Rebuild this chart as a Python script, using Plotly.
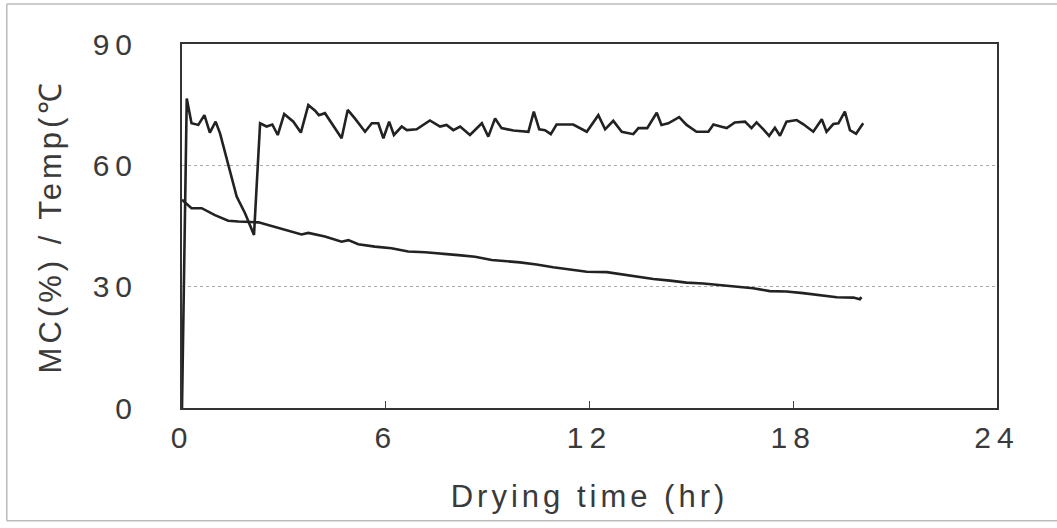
import plotly.graph_objects as go

# Temperature (°C) vs drying time (hr)
temp_t = [0.0, 0.14, 0.28, 0.48, 0.66, 0.82, 0.99, 1.12, 1.61, 1.86, 2.12, 2.30, 2.49, 2.66, 2.82,
          3.01, 3.28, 3.50, 3.72, 3.92, 4.03, 4.21, 4.70, 4.88, 5.09, 5.39, 5.59, 5.78, 5.93, 6.10,
          6.24, 6.47, 6.62, 6.91, 7.30, 7.60, 7.79, 7.99, 8.19, 8.48, 8.83, 9.02, 9.22, 9.41, 9.76,
          10.20, 10.36, 10.52, 10.69, 10.86, 11.03, 11.52, 11.92, 12.26, 12.46, 12.70, 12.95, 13.29,
          13.44, 13.70, 13.98, 14.12, 14.32, 14.64, 14.86, 15.15, 15.50, 15.65, 15.86, 16.04, 16.28,
          16.58, 16.77, 16.92, 17.12, 17.29, 17.46, 17.61, 17.80, 18.10, 18.29, 18.59, 18.84, 18.98,
          19.18, 19.33, 19.52, 19.67, 19.85, 20.06]
temp_v = [0.0, 76.5, 70.4, 70.0, 72.4, 68.1, 70.8, 67.9, 52.3, 48.1, 42.8, 70.4, 69.6, 70.1, 67.5,
          72.7, 70.8, 68.1, 74.9, 73.5, 72.4, 72.9, 66.7, 73.7, 71.6, 68.3, 70.4, 70.4, 66.7, 70.8,
          67.5, 69.6, 68.7, 68.9, 71.1, 69.6, 70.0, 68.7, 69.6, 67.5, 70.4, 67.1, 71.6, 69.2, 68.6,
          68.3, 73.3, 68.9, 68.7, 67.7, 70.1, 70.1, 68.3, 72.4, 68.9, 71.0, 68.3, 67.7,
          69.2, 69.2, 73.0, 70.0, 70.4, 71.9, 70.0, 68.3, 68.3, 70.1, 69.6, 69.2, 70.6,
          70.8, 69.2, 70.6, 68.9, 67.3, 69.3, 67.3, 70.8, 71.2, 70.2, 68.3, 71.4, 68.3,
          70.2, 70.4, 73.3, 68.7, 67.8, 70.4]

# Moisture content (%) vs drying time (hr)
mc_t = [0.0, 0.28, 0.58, 0.97, 1.36, 1.66, 2.25, 2.74, 3.23, 3.52, 3.72, 4.21, 4.70, 4.90, 5.19,
        5.68, 6.17, 6.66, 7.16, 7.65, 8.14, 8.63, 9.12, 9.95, 10.44, 10.93, 11.43, 11.92, 12.51,
        12.90, 13.39, 13.88, 14.37, 14.86, 15.35, 15.84, 16.33, 16.82, 17.31, 17.80, 18.29, 18.79,
        19.28, 19.77, 19.96, 20.01]
mc_v = [51.5, 49.4, 49.4, 47.7, 46.3, 46.1, 45.9, 44.7, 43.6, 42.9, 43.3, 42.4, 41.1, 41.5, 40.5,
        39.9, 39.5, 38.7, 38.5, 38.2, 37.8, 37.4, 36.6, 36.0, 35.5, 34.8, 34.3, 33.7, 33.6,
        33.1, 32.6, 31.9, 31.5, 31.0, 30.8, 30.4, 30.0, 29.6, 28.9, 28.8, 28.4, 27.9,
        27.4, 27.3, 26.9, 27.4]

x_ticks = [0, 6, 12, 18, 24]
x_tick_labels = ["0", "6", "12", "18", "24"]
y_ticks = [0, 30, 60, 90]
y_tick_labels = ["0", "30", "60", "90"]
x_title = "Drying time (hr)"
y_title = "MC(%) / Temp(℃"

line_color = "#222222"
font_family = "Liberation Sans, Arial, sans-serif"


def spaced(s, px):
    return '<span style="letter-spacing:%dpx">%s</span>' % (px, s)


fig = go.Figure()
fig.add_trace(go.Scatter(x=temp_t, y=temp_v, mode="lines",
                         line=dict(color=line_color, width=2.6), showlegend=False))
fig.add_trace(go.Scatter(x=mc_t, y=mc_v, mode="lines",
                         line=dict(color=line_color, width=2.6), showlegend=False))

fig.update_layout(
    width=1057, height=528,
    margin=dict(l=182, r=60, t=44, b=120),
    paper_bgcolor="white", plot_bgcolor="white",
    font=dict(family=font_family, color="#3a3a3a", size=30),
    xaxis=dict(range=[0, 24], tickvals=x_ticks, ticktext=[spaced(t, 6) for t in x_tick_labels],
               ticks="inside", ticklen=7, tickcolor="#444",
               showgrid=False, zeroline=False, showline=True, linecolor="#333", linewidth=2,
               mirror=True, tickfont=dict(size=30), ticklabelstandoff=2,
               title=dict(text=spaced(x_title, 4), font=dict(size=31), standoff=32)),
    yaxis=dict(range=[0, 90], tickvals=y_ticks, ticktext=[spaced(t, 6) for t in y_tick_labels],
               ticks="", showgrid=True,
               gridcolor="#aaaaaa", griddash="dot", gridwidth=1, zeroline=False,
               showline=True, linecolor="#333", linewidth=2, mirror=True,
               tickfont=dict(size=30), ticklabelstandoff=36,
               title=dict(text=spaced(y_title, 4), font=dict(size=31), standoff=22)),
    shapes=[
        dict(type="line", xref="paper", yref="paper", x0=-0.215, x1=1.08, y0=1.11, y1=1.11,
             line=dict(color="#bbbbbb", width=1.5)),
        dict(type="line", xref="paper", yref="paper", x0=-0.215, x1=-0.215, y0=-0.31, y1=1.11,
             line=dict(color="#bbbbbb", width=1.5)),
        dict(type="line", xref="paper", yref="paper", x0=-0.215, x1=1.08, y0=-0.31, y1=-0.31,
             line=dict(color="#bbbbbb", width=1.5)),
    ],
)

fig.write_html("out.html")
